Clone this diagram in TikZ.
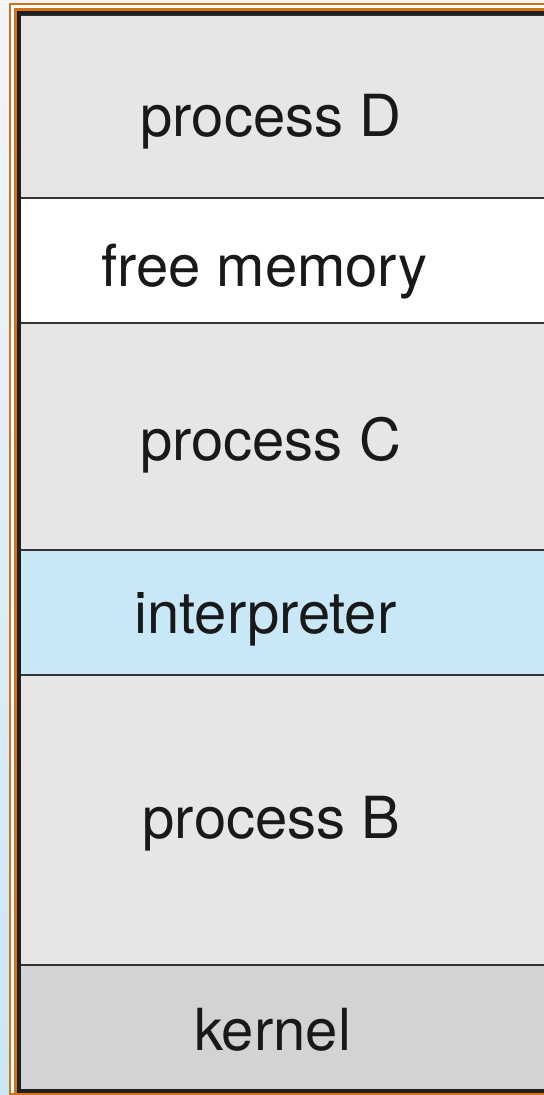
\documentclass[tikz,border=0pt]{standalone}
\usepackage{fontspec}
\setmainfont{TeX Gyre Heros}
\usetikzlibrary{positioning}
\definecolor{procgray}{HTML}{E6E6E6}
\definecolor{interpblue}{HTML}{C8E7F7}
\definecolor{kernelgray}{HTML}{D1D3D4}
\definecolor{frameorange}{HTML}{D2731C}
\definecolor{lineblack}{HTML}{333333}
\definecolor{bgtop}{HTML}{F2F5F9}
\definecolor{bgbottom}{HTML}{C9E6F6}

\begin{document}
\begin{tikzpicture}[x=0.5pt,y=-0.5pt,node distance=0pt,
    band/.style={rectangle,draw=lineblack,line width=1pt,minimum width=270pt,inner sep=0pt,outer sep=0pt},
    label text/.style={font=\fontsize{29}{34}\selectfont,text=black!90,anchor=base}]
    \useasboundingbox (0,0) rectangle (544,1095);
    \clip (0,0) rectangle (544,1095);
    \shade[top color=bgtop,bottom color=bgbottom] (0,0) rectangle (544,1095);
    % frame
    \draw[frameorange,line width=1pt,fill=white] (10,4) rectangle (600,1094);
    \draw[frameorange,line width=1.5pt] (15.5,10) rectangle (600,1093);
    % memory bands
    \node[band,fill=procgray,minimum height=91.5pt,anchor=north west] (d) at (19,15) {};
    \node[band,fill=white,minimum height=62.5pt,below=of d] (free) {};
    \node[band,fill=procgray,minimum height=113.5pt,below=of free] (c) {};
    \node[band,fill=interpblue,minimum height=62.5pt,below=of c] (interp) {};
    \node[band,fill=procgray,minimum height=145pt,below=of interp] (b) {};
    \node[band,fill=kernelgray,minimum height=62.5pt,below=of b] (kernel) {};
    \draw[black!88,line width=2pt] (19,13) rectangle (600,1091);
    % labels
    \node[label text] (dlab) at (271,137) {process D};
    \node[label text] (freelab) at (264.5,287) {free memory};
    \node[label text] (clab) at (270.5,460) {process C};
    \node[label text] (interplab) at (265.5,633) {interpreter};
    \node[label text] (blab) at (271.5,838) {process B};
    \node[label text] (kernellab) at (272.5,1050) {kernel};
\end{tikzpicture}
\end{document}
